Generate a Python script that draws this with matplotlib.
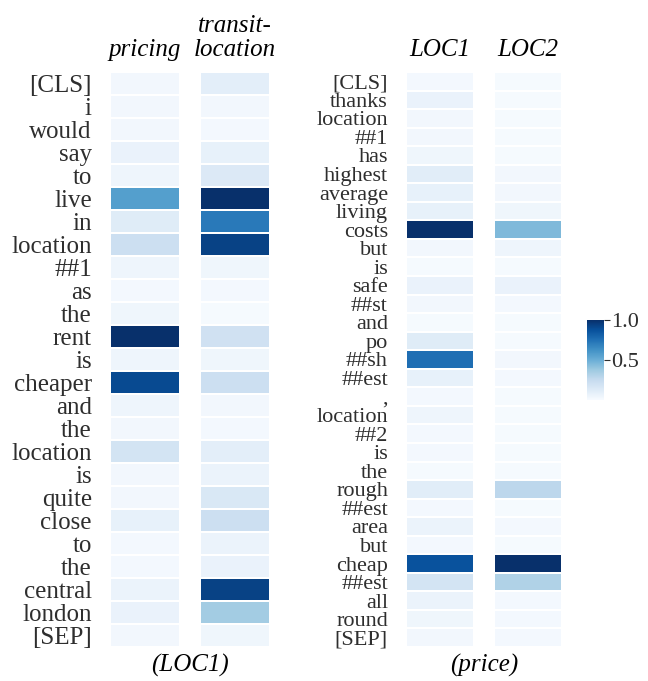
import numpy as np
import matplotlib
matplotlib.use("Agg")
import matplotlib.pyplot as plt

plt.rcParams['font.family'] = ['Liberation Serif', 'DejaVu Serif']

# ---------------- data ----------------
left_tokens = ["[CLS]", "i", "would", "say", "to", "live", "in", "location", "##1",
               "as", "the", "rent", "is", "cheaper", "and", "the", "location", "is",
               "quite", "close", "to", "the", "central", "london", "[SEP]"]
left_cols = ["pricing", "transit-\nlocation"]
left_pricing = [0.03, 0.03, 0.03, 0.07, 0.05, 0.57, 0.12, 0.22, 0.05, 0.02, 0.04,
                1.00, 0.05, 0.90, 0.05, 0.03, 0.18, 0.03, 0.03, 0.08, 0.02, 0.02,
                0.06, 0.07, 0.03]
left_transit = [0.10, 0.03, 0.02, 0.08, 0.14, 1.00, 0.72, 0.93, 0.04, 0.02, 0.01,
                0.20, 0.04, 0.22, 0.03, 0.02, 0.10, 0.06, 0.15, 0.22, 0.06, 0.07,
                0.93, 0.36, 0.04]
left_label = "(LOC1)"

right_tokens = ["[CLS]", "thanks", "location", "##1", "has", "highest", "average",
                "living", "costs", "but", "is", "safe", "##st", "and", "po", "##sh",
                "##est", ",", "location", "##2", "is", "the", "rough", "##est",
                "area", "but", "cheap", "##est", "all", "round", "[SEP]"]
right_cols = ["LOC1", "LOC2"]
right_loc1 = [0.02, 0.07, 0.03, 0.03, 0.04, 0.11, 0.08, 0.08, 1.00, 0.03, 0.01,
              0.07, 0.03, 0.01, 0.12, 0.76, 0.08, 0.02, 0.05, 0.02, 0.02, 0.01,
              0.11, 0.02, 0.06, 0.02, 0.87, 0.18, 0.06, 0.04, 0.03]
right_loc2 = [0.01, 0.01, 0.01, 0.01, 0.01, 0.03, 0.03, 0.04, 0.45, 0.05, 0.01,
              0.07, 0.02, 0.01, 0.01, 0.03, 0.02, 0.01, 0.01, 0.01, 0.01, 0.01,
              0.28, 0.01, 0.02, 0.01, 1.00, 0.32, 0.02, 0.02, 0.02]
right_label = "(price)"

cbar_ticks = [0.5, 1.0]

# ---------------- figure ----------------
W, H = 648, 681
fig = plt.figure(figsize=(W / 100, H / 100), dpi=100)

GAP = 0.3
xedges = np.array([0, 1, 1 + GAP, 2 + GAP])
label_color = '#2e2e2e'


def panel(rect, tokens, colnames, c1, c2, bottom, fsize):
    ax = fig.add_axes(rect)
    n = len(tokens)
    C = np.ma.masked_invalid(np.column_stack([c1, np.full(n, np.nan), c2]))
    mesh = ax.pcolormesh(xedges, np.arange(n + 1), C, cmap='Blues', vmin=0, vmax=1,
                         edgecolors='white', linewidth=1.2)
    ax.set_xlim(0, 2 + GAP)
    ax.set_ylim(n, 0)
    ax.set_yticks(np.arange(n) + 0.5)
    ax.set_yticklabels(tokens, fontsize=fsize, color=label_color)
    ax.xaxis.tick_top()
    ax.set_xticks([0.5, 1.5 + GAP])
    ax.set_xticklabels(colnames, fontsize=18, style='italic', color='black',
                       linespacing=1.1)
    ax.tick_params(axis='both', length=0)
    ax.tick_params(axis='y', pad=13)
    ax.tick_params(axis='x', pad=8)
    for s in ax.spines.values():
        s.set_visible(False)
    ax.text(0.5, -0.012, bottom, transform=ax.transAxes, ha='center', va='top',
            fontsize=18, style='italic', color='black')
    return mesh


y0 = (H - 647) / H
hh = 575 / H
panel([110 / W, y0, 160 / W, hh], left_tokens, left_cols, left_pricing,
      left_transit, left_label, 18)
mesh = panel([406 / W, y0, 156 / W, hh], right_tokens, right_cols, right_loc1,
             right_loc2, right_label, 16)

cax = fig.add_axes([587 / W, (H - 400) / H, 17 / W, 80 / H])
cb = fig.colorbar(mesh, cax=cax, ticks=cbar_ticks)
cb.outline.set_visible(False)
cb.ax.set_yticklabels([f"{t:.1f}" for t in cbar_ticks])
cb.ax.tick_params(labelsize=16, colors=label_color, length=4, width=0.8, pad=1)

fig.savefig("out.png", dpi=100)
